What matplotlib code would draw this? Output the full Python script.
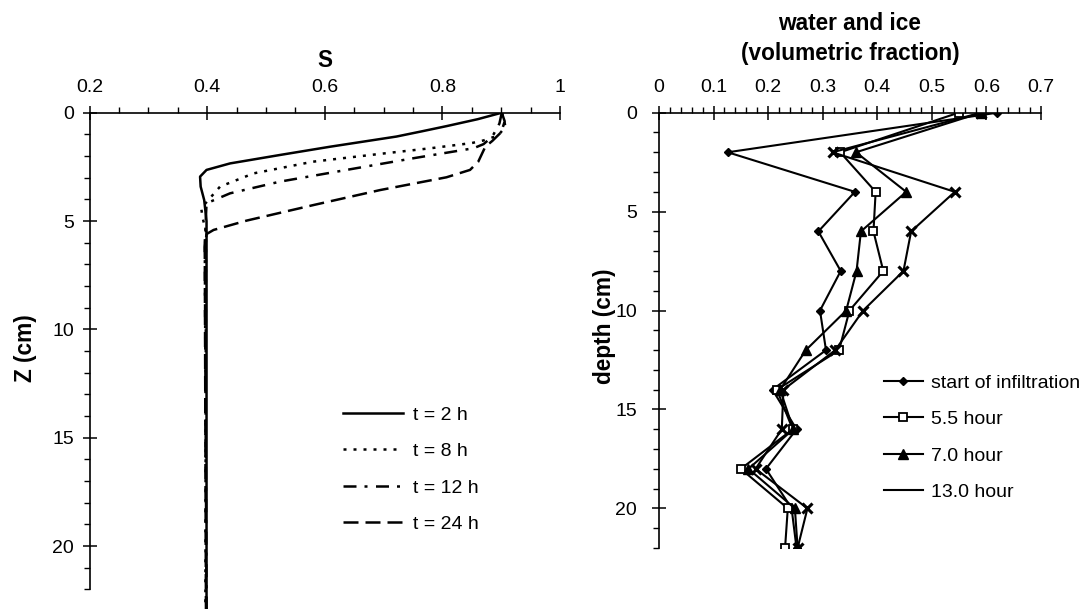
import numpy as np
import matplotlib
matplotlib.use('Agg')
import matplotlib.pyplot as plt
from matplotlib.lines import Line2D
from matplotlib.ticker import MultipleLocator

plt.rcParams['font.family'] = ['Liberation Sans', 'DejaVu Sans']

# Left panel: saturation profiles S(z)
s_2h = [0.901, 0.86, 0.807, 0.765, 0.722, 0.609, 0.524, 0.439, 0.399, 0.388, 0.389, 0.395, 0.399, 0.399]
z_2h = [0.0, 0.3, 0.62, 0.86, 1.1, 1.57, 1.95, 2.34, 2.64, 2.95, 3.41, 4.03, 5.0, 22.9]

s_8h = [0.901, 0.905, 0.907, 0.895, 0.87, 0.85, 0.78, 0.694, 0.58, 0.479, 0.422, 0.402, 0.39, 0.392, 0.398, 0.397]
z_8h = [0.0, 0.3, 0.65, 1.05, 1.28, 1.4, 1.64, 1.9, 2.26, 2.8, 3.41, 4.03, 4.41, 4.8, 5.5, 22.9]

s_12h = [0.901, 0.897, 0.885, 0.87, 0.853, 0.751, 0.637, 0.524, 0.439, 0.399, 0.396, 0.399]
z_12h = [0.0, 0.5, 1.1, 1.45, 1.64, 2.1, 2.64, 3.18, 3.72, 4.18, 6.0, 22.9]

s_24h = [0.901, 0.906, 0.9, 0.885, 0.873, 0.861, 0.847, 0.807, 0.694, 0.581, 0.467, 0.411, 0.399, 0.396, 0.398]
z_24h = [0.0, 0.4, 0.9, 1.3, 1.57, 2.26, 2.64, 2.98, 3.57, 4.26, 4.98, 5.41, 5.6, 6.2, 22.9]

# Right panel: water and ice volumetric fraction vs depth
depth = [0, 2, 4, 6, 8, 10, 12, 14, 16, 18, 20, 22]
start_inf = [0.62, 0.126, 0.359, 0.292, 0.333, 0.295, 0.306, 0.208, 0.252, 0.196, 0.243, 0.252]
h5_5 = [0.549, 0.332, 0.397, 0.393, 0.411, 0.349, 0.33, 0.216, 0.245, 0.150, 0.236, 0.231]
h7_0 = [0.59, 0.361, 0.453, 0.370, 0.362, 0.343, 0.269, 0.222, 0.246, 0.164, 0.249, 0.254]
h13_0 = [0.59, 0.318, 0.542, 0.462, 0.448, 0.374, 0.323, 0.228, 0.225, 0.177, 0.272, 0.254]

W, H = 1084, 609
fig = plt.figure(figsize=(10.84, 6.09), dpi=100)

tick_fs = 14
lab_fs = 16.3


def style_axis(ax):
    ax.xaxis.tick_top()
    ax.xaxis.set_label_position('top')
    for sp in ['right', 'bottom']:
        ax.spines[sp].set_visible(False)
    for sp in ['top', 'left']:
        ax.spines[sp].set_linewidth(1.2)
    ax.tick_params(which='major', direction='inout', length=10, width=1.1, labelsize=tick_fs)
    ax.tick_params(which='minor', direction='out', length=4, width=1.0)
    ax.tick_params(axis='x', which='both', top=True, bottom=False)
    ax.tick_params(axis='y', which='both', left=True, right=False)


# ---- left panel
ax1 = fig.add_axes([89.5 / W, 0.0, (560 - 89.5) / W, 1 - 112.7 / H])
lw = 1.8
ax1.plot(s_2h, z_2h, color='black', lw=lw, ls='-', label='t = 2 h')
ax1.plot(s_8h, z_8h, color='black', lw=lw, ls=(0, (1.2, 2.8)), label='t = 8 h')
ax1.plot(s_12h, z_12h, color='black', lw=lw, ls=(0, (5.2, 3.2, 1.2, 3.4)), label='t = 12 h')
ax1.plot(s_24h, z_24h, color='black', lw=lw, ls=(0, (6, 2.8)), label='t = 24 h')
ax1.set_xlim(0.2, 1.0)
ax1.set_ylim(22.9, 0)
ax1.spines['left'].set_bounds(0, 22)
style_axis(ax1)
ax1.set_xticks([0.2, 0.4, 0.6, 0.8, 1.0])
ax1.set_xticklabels(['0.2', '0.4', '0.6', '0.8', '1'])
ax1.xaxis.set_minor_locator(MultipleLocator(0.05))
ax1.set_yticks([0, 5, 10, 15, 20])
ax1.set_yticks(np.arange(0, 23, 1), minor=True)
ax1.tick_params(axis='x', pad=7)
ax1.tick_params(axis='y', pad=6)
ax1.set_xlabel('S', fontsize=lab_fs, fontweight='bold', labelpad=9)
ax1.set_ylabel('Z (cm)', fontsize=lab_fs, fontweight='bold')
ax1.yaxis.set_label_coords((37 - 89.5) / 470.5, 1 - (348 - 112.7) / 496.3)
ax1.legend(loc='upper left', bbox_to_anchor=(343 / W, 1 - 406 / H),
           bbox_transform=fig.transFigure, frameon=False, fontsize=tick_fs,
           handlelength=3.1, handletextpad=0.5, labelspacing=0.97, borderpad=0,
           borderaxespad=0)

# ---- right panel
ax2 = fig.add_axes([659 / W, 1 - 548 / H, 382 / W, (548 - 112.7) / H])
ax2.plot(start_inf, depth, color='black', lw=1.5, marker='D', ms=4.5,
         label='start of infiltration')
ax2.plot(h5_5, depth, color='black', lw=1.5, marker='s', ms=6, mfc='white',
         mew=1.3, label='5.5 hour')
ax2.plot(h7_0, depth, color='black', lw=1.5, marker='^', ms=7, label='7.0 hour')
ax2.plot(h13_0, depth, color='black', lw=1.5, marker='x', ms=7, mew=2.2)
ax2.set_xlim(0, 0.7)
ax2.set_ylim(22, 0)
style_axis(ax2)
ax2.set_xticks([0, 0.1, 0.2, 0.3, 0.4, 0.5, 0.6, 0.7])
ax2.set_xticklabels(['0', '0.1', '0.2', '0.3', '0.4', '0.5', '0.6', '0.7'])
ax2.xaxis.set_minor_locator(MultipleLocator(0.02))
ax2.set_yticks([0, 5, 10, 15, 20])
ax2.set_yticks(np.arange(0, 23, 1), minor=True)
ax2.tick_params(axis='x', pad=7)
ax2.tick_params(axis='y', pad=11)
ax2.set_xlabel('water and ice\n(volumetric fraction)', fontsize=lab_fs,
               fontweight='bold', labelpad=14, linespacing=1.35)
ax2.set_ylabel('depth (cm)', fontsize=lab_fs, fontweight='bold')
ax2.yaxis.set_label_coords((616 - 659) / 382, 1 - (326.7 - 112.7) / 435.3)

handles, labels = ax2.get_legend_handles_labels()
handles.append(Line2D([], [], color='black', lw=1.5))
labels.append('13.0 hour')
ax2.legend(handles, labels, loc='upper left', bbox_to_anchor=(884 / W, 1 - 374 / H),
           bbox_transform=fig.transFigure, frameon=False, fontsize=tick_fs,
           handlelength=2.0, handletextpad=0.4, labelspacing=0.97, borderpad=0,
           borderaxespad=0, numpoints=1)

fig.savefig('out.png', dpi=100)
